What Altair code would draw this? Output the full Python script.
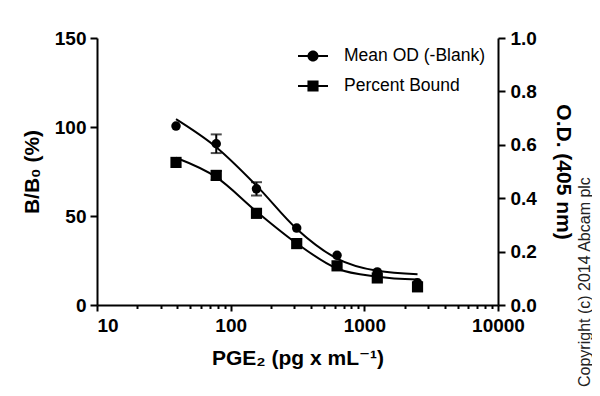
import altair as alt
import pandas as pd

# ---- data ----
conc = [39, 78, 156, 312, 625, 1250, 2500]
od_mean = [0.670, 0.604, 0.435, 0.288, 0.186, 0.124, 0.083]
od_err = [0.0, 0.035, 0.025, 0.0, 0.0, 0.0, 0.0]
pct_bound = [80.1, 72.8, 51.5, 34.5, 22.0, 15.2, 10.2]
pct_err = [0.0, 2.5, 0.0, 0.0, 0.0, 0.0, 0.0]

fit_conc = [39, 78, 156, 312, 625, 1250, 2500]
od_fit = [0.696, 0.591, 0.447, 0.285, 0.174, 0.128, 0.115]
pct_fit = [82.7, 71.8, 52.5, 34.6, 20.5, 15.9, 14.3]

series_names = ["Mean OD (-Blank)", "Percent Bound"]
x_tick_values = [10, 20, 30, 40, 50, 60, 70, 80, 90,
                 100, 200, 300, 400, 500, 600, 700, 800, 900,
                 1000, 2000, 3000, 4000, 5000, 6000, 7000, 8000, 9000, 10000]
left_ticks = [0, 50, 100, 150]
right_ticks = [0.0, 0.2, 0.4, 0.6, 0.8, 1.0]
copyright_text = ["Copyright (c) 2014 Abcam plc"]

FONT = "Liberation Sans, Arial, DejaVu Sans, sans-serif"

pts = pd.DataFrame({"conc": conc, "od": od_mean, "od_err": od_err,
                    "pct": pct_bound, "pct_err": pct_err})
pts["od_lo"] = pts["od"] - pts["od_err"]
pts["od_hi"] = pts["od"] + pts["od_err"]
pts["pct_lo"] = pts["pct"] - pts["pct_err"]
pts["pct_hi"] = pts["pct"] + pts["pct_err"]
fit = pd.DataFrame({"conc": fit_conc, "od": od_fit, "pct": pct_fit})
legend_df = pd.DataFrame({"series": series_names, "conc": [100, 100], "pct": [50, 50]})
cr_df = pd.DataFrame({"t": copyright_text})

is_pow10 = "abs(log(datum.value)/LN10 - round(log(datum.value)/LN10)) < 0.000001"

x_axis = alt.Axis(
    values=x_tick_values, format="d",
    labelExpr="abs(log(datum.value)/LN10 - round(log(datum.value)/LN10)) < 0.000001 ? datum.label : ''",
    labelOverlap=False,
    tickSize={"condition": {"test": is_pow10, "value": 6}, "value": 3.5},
    labelAlign={"condition": {"test": "datum.value <= 10", "value": "left"}, "value": "center"},
    labelPadding=5, titlePadding=12,
    title="PGE₂ (pg x mL⁻¹)",
)
x_enc = alt.X("conc:Q", scale=alt.Scale(type="log", domain=[10, 10000], nice=False), axis=x_axis)

left_axis = alt.Axis(values=left_ticks, orient="left", title="B/B₀ (%)",
                     tickSize=7, labelPadding=4, titlePadding=12)
right_axis = alt.Axis(values=right_ticks, orient="right", format=".1f",
                      title="O.D. (405 nm)", tickSize=7, labelPadding=5, titlePadding=16)

left_scale = alt.Scale(domain=[0, 150], nice=False)
right_scale = alt.Scale(domain=[0, 1], nice=False)

# ---- left (percent bound) group ----
pct_line = alt.Chart(fit).mark_line(interpolate="monotone", color="black", strokeWidth=2).encode(
    x=x_enc, y=alt.Y("pct:Q", scale=left_scale, axis=left_axis))
pct_err_bar = alt.Chart(pts).transform_filter("datum.pct_err > 0").mark_errorbar(
    ticks={"size": 11, "thickness": 2, "color": "black"}, thickness=2, color="black").encode(
    x=x_enc, y=alt.Y("pct_lo:Q", scale=left_scale, axis=left_axis), y2="pct_hi:Q")
pct_pts = alt.Chart(pts).mark_square(size=125, color="black", opacity=1).encode(
    x=x_enc, y=alt.Y("pct:Q", scale=left_scale, axis=left_axis))

# legend glyphs: line segments (as thin filled bars) on both sides of the marker
bars = "M-1,-0.07L-0.36,-0.07L-0.36,0.07L-1,0.07ZM0.36,-0.07L1,-0.07L1,0.07L0.36,0.07Z"
path_circle = bars + "M-0.37,0A0.37,0.37,0,1,1,0.37,0A0.37,0.37,0,1,1,-0.37,0Z"
path_square = bars + "M-0.37,-0.37L0.37,-0.37L0.37,0.37L-0.37,0.37Z"

legend_layer = alt.Chart(legend_df).transform_filter("false").mark_point(
    filled=True, size=900, color="black").encode(
    x=x_enc, y=alt.Y("pct:Q", scale=left_scale, axis=left_axis),
    shape=alt.Shape("series:N",
                    scale=alt.Scale(domain=series_names, range=[path_circle, path_square]),
                    legend=alt.Legend(title=None, orient="none", legendX=200, legendY=2,
                                      padding=0, symbolSize=900,
                                      symbolFillColor="black",
                                      symbolOpacity=1, labelFont=FONT, labelFontSize=17.5,
                                      labelFontWeight="normal", labelColor="black",
                                      labelOffset=15, rowPadding=5)))

left_group = alt.layer(pct_line, pct_err_bar, pct_pts, legend_layer)

# ---- right (OD) group ----
od_line = alt.Chart(fit).mark_line(interpolate="monotone", color="black", strokeWidth=2).encode(
    x=x_enc, y=alt.Y("od:Q", scale=right_scale, axis=right_axis))
od_err_bar = alt.Chart(pts).transform_filter("datum.od_err > 0").mark_errorbar(
    ticks={"size": 11, "thickness": 2, "color": "black"}, thickness=2, color="black").encode(
    x=x_enc, y=alt.Y("od_lo:Q", scale=right_scale, axis=right_axis), y2="od_hi:Q")
od_pts = alt.Chart(pts).mark_circle(size=90, color="black", opacity=1).encode(
    x=x_enc, y=alt.Y("od:Q", scale=right_scale, axis=right_axis))

right_group = alt.layer(od_line, od_err_bar, od_pts)

cr = alt.Chart(cr_df).mark_text(angle=270, align="left", baseline="middle",
                                fontSize=16, font=FONT, color="#222222").encode(
    x=alt.value(488), y=alt.value(349), text="t:N")

chart = alt.layer(left_group, right_group, cr).resolve_scale(
    y="independent", shape="independent"
).properties(
    width=401, height=267,
    padding={"left": 89, "top": 30, "right": 94, "bottom": 83},
    autosize="none",
    background="white",
).configure_view(stroke=None).configure_axis(
    grid=False, domainColor="black", domainWidth=2, tickColor="black", tickWidth=2,
    labelFont=FONT, labelFontSize=19, labelFontWeight="bold", labelColor="black",
    titleFont=FONT, titleFontSize=21, titleFontWeight="bold", titleColor="black",
)

chart.save("out.html", embed_options={"renderer": "svg", "actions": False})
